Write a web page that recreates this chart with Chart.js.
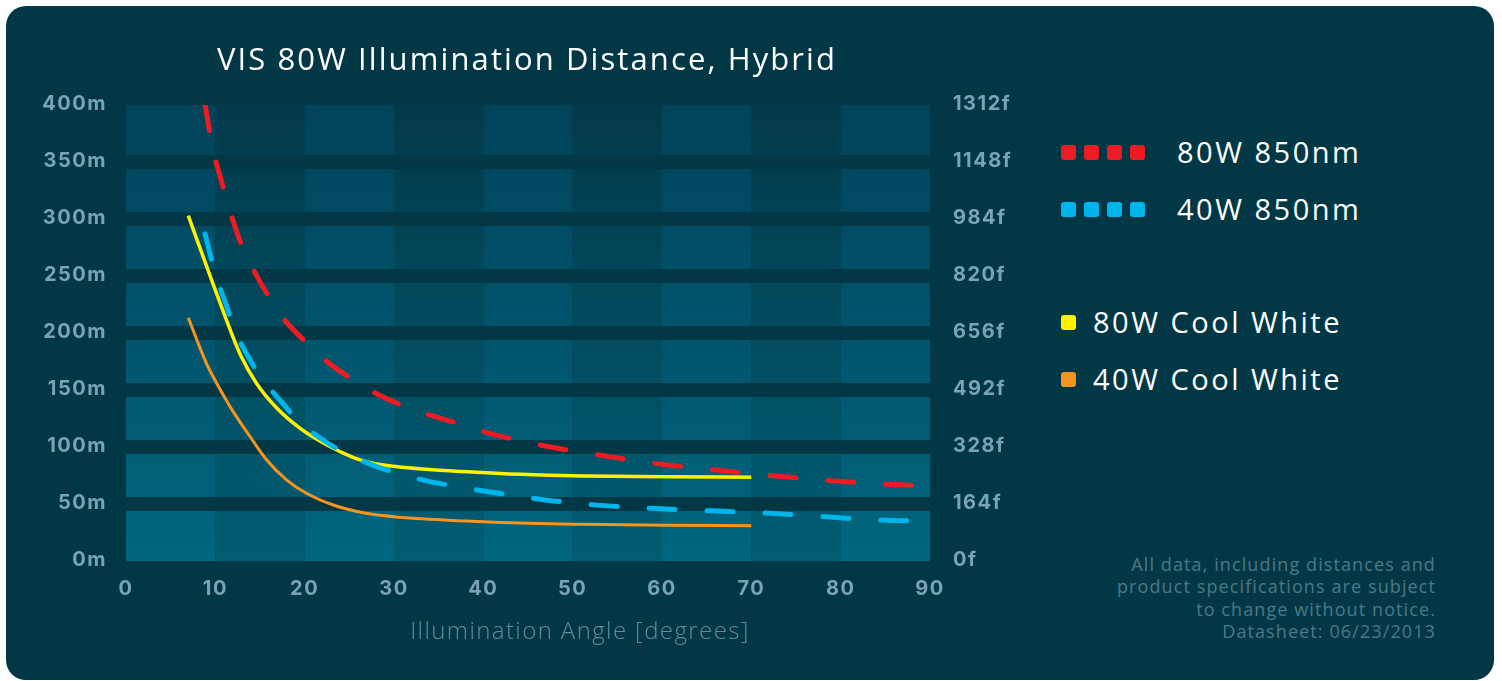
<!DOCTYPE html>
<html>
<head>
<meta charset="utf-8">
<script src="https://cdn.jsdelivr.net/npm/chart.js@4.4.1/dist/chart.umd.min.js"></script>
<style>
  html, body { margin:0; padding:0; background:#ffffff; width:1502px; height:681px; overflow:hidden; }
  #panel { position:absolute; left:6px; top:6px; width:1488px; height:674px; background:#023846; border-radius:20px; }
  #wrap { position:absolute; left:0; top:0; width:1054px; height:681px; }
  #title { position:absolute; left:127px; width:800px; top:38px; text-align:center; color:#ffffff;
           font-family:"Open Sans", sans-serif; font-weight:400; font-size:31px; line-height:40px;
           letter-spacing:2.1px; white-space:nowrap; }
  #xtitle { position:absolute; left:380px; width:400px; top:616px; text-align:center; color:#5f8c9b;
            font-family:"Open Sans", sans-serif; font-weight:300; font-size:24px; line-height:28px;
            letter-spacing:1.4px; white-space:nowrap; }
  #legend { position:absolute; left:1061px; top:0; font-family:"Open Sans", sans-serif; color:#ffffff; }
  .lrow { position:absolute; left:0; height:30px; display:flex; align-items:center; white-space:nowrap; }
  .sw { width:15px; height:15px; border-radius:3px; margin-right:8px; flex:none; }
  .ltxt { font-size:29px; line-height:30px; letter-spacing:2.5px; }
  #note { position:absolute; right:66px; top:553px; text-align:right; color:#4d7886;
          font-family:"Open Sans", sans-serif; font-size:18px; line-height:22.3px; letter-spacing:1.1px; white-space:nowrap; }
</style>
</head>
<body>
<div id="panel"></div>
<div id="wrap"><canvas id="c" width="1054" height="681"></canvas></div>
<div id="title"></div>
<div id="xtitle"></div>
<div id="legend"></div>
<div id="note"></div>
<script>
// ---------- data ----------
const chartTitle = 'VIS 80W Illumination Distance, Hybrid';
const xAxisTitle = 'Illumination Angle [degrees]';
const xTickLabels = ['0','10','20','30','40','50','60','70','80','90'];
const yTickLabelsM = ['0m','50m','100m','150m','200m','250m','300m','350m','400m'];
const yTickLabelsF = ['0f','164f','328f','492f','656f','820f','984f','1148f','1312f'];
const seriesNames = ['80W 850nm','40W 850nm','80W Cool White','40W Cool White'];
const seriesColors = ['#ed1c24','#00b4ec','#fff200','#f7941d'];
const seriesDashed = [true, true, false, false];
const noteLines = ['All data, including distances and','product specifications are subject','to change without notice.','Datasheet: 06/23/2013'];

const angles80nm = [8.85, 9.2, 9.8, 10.8, 11.6, 12.8, 14.1, 15.9, 17.6, 20.2, 22.5, 25.4, 28.1, 31.4, 34.4, 38.1, 40.9, 44.5, 47.5, 51.2, 54.2, 57.9, 60.9, 64.6, 67.6, 71.3, 74.3, 78.1, 81.0, 84.8, 87.8, 90];
const dist80nm   = [400, 384, 359, 330, 308, 280, 258, 233, 213, 191.5, 175, 159, 146.5, 135, 127, 118.5, 111.5, 105, 100, 95, 91.5, 87, 84, 81, 78.5, 75.5, 73.5, 71, 69.3, 67.5, 66.4, 65];

const angles40nm = [8.85, 10.0, 11.2, 12.2, 13.7, 15.2, 17.4, 19.4, 22.2, 24.7, 27.9, 30.7, 34.0, 37.0, 40.4, 43.4, 46.7, 49.7, 53.1, 56.1, 59.4, 62.4, 65.7, 68.7, 72.1, 75.1, 78.8, 81.4, 85.1, 87.8, 90];
const dist40nm   = [287, 252, 225, 202, 179, 160, 139.7, 122, 105.5, 94, 83.3, 76.3, 69.6, 65.5, 61, 57.6, 53.8, 51.2, 48.8, 47.3, 46, 44.8, 44, 43, 41.8, 40.4, 38.5, 37, 35.8, 35.1, 34.5];

const anglesCW80 = [6.97, 9.7, 12.0, 12.8, 14.6, 16.9, 19.5, 22.5, 25.4, 27.0, 28.6, 34.4, 41.9, 47.5, 51.2, 60.5, 70];
const distCW80   = [303, 244, 196, 181, 156, 134, 116.4, 101.8, 91, 87, 84.5, 80, 76.8, 75.3, 74.6, 74, 73.4];

const anglesCW40 = [6.97, 9.0, 10.15, 12.0, 13.9, 15.75, 18.0, 20.2, 23.2, 26.9, 30.7, 38.1, 41.9, 47.5, 51.2, 60.5, 70];
const distCW40   = [213.4, 173.4, 156, 131, 109, 88.6, 71, 59.4, 49.1, 41.8, 38.3, 35, 33.8, 32.6, 32.2, 31.3, 31];

const seriesAngles = [angles80nm, angles40nm, anglesCW80, anglesCW40];
const seriesDist = [dist80nm, dist40nm, distCW80, distCW40];

// ---------- html texts ----------
document.getElementById('title').textContent = chartTitle;
document.getElementById('xtitle').textContent = xAxisTitle;
document.getElementById('note').innerHTML = noteLines.map(s => '<div>' + s + '</div>').join('');
const legendRowsY = [152, 209, 322, 379];
const legend = document.getElementById('legend');
seriesNames.forEach((name, i) => {
  const row = document.createElement('div');
  row.className = 'lrow';
  row.style.top = (legendRowsY[i] - 15) + 'px';
  const n = seriesDashed[i] ? 4 : 1;
  for (let k = 0; k < n; k++) {
    const s = document.createElement('div');
    s.className = 'sw';
    s.style.background = seriesColors[i];
    if (k === n - 1) s.style.marginRight = seriesDashed[i] ? '32px' : '17px';
    row.appendChild(s);
  }
  const t = document.createElement('span');
  t.className = 'ltxt';
  t.textContent = name;
  row.appendChild(t);
  legend.appendChild(row);
});

// ---------- background plugin ----------
const bgPlugin = {
  id: 'bands',
  beforeDraw(chart) {
    const { ctx, chartArea: a, scales } = chart;
    const xs = scales.x;
    ctx.save();
    for (let i = 0; i < xTickLabels.length - 1; i++) {
      const x0 = xs.getPixelForValue(i * 10);
      const x1 = xs.getPixelForValue((i + 1) * 10);
      const g = ctx.createLinearGradient(0, a.top, 0, a.bottom);
      if (i % 2 === 0) { g.addColorStop(0, '#01435a'); g.addColorStop(1, '#01667f'); }
      else { g.addColorStop(0, '#023a4b'); g.addColorStop(1, '#015d73'); }
      ctx.fillStyle = g;
      ctx.fillRect(x0, a.top, x1 - x0, a.bottom - a.top);
    }
    ctx.restore();
    if ('letterSpacing' in ctx) ctx.letterSpacing = '1.5px';
  },
  beforeDatasetsDraw(chart) {
    if ('letterSpacing' in chart.ctx) chart.ctx.letterSpacing = '0px';
  }
};

const tickFont = { family: 'Inter, "Open Sans", sans-serif', weight: 'bold', size: 20 };
const tickColor = '#7aa3b6';

new Chart(document.getElementById('c'), {
  type: 'line',
  data: {
    datasets: seriesNames.map((name, i) => ({
      label: name,
      data: seriesAngles[i].map((a, k) => ({ x: a, y: seriesDist[i][k] })),
      borderColor: seriesColors[i],
      borderWidth: seriesDashed[i] ? 5 : (i === 2 ? 3.5 : 3),
      borderDash: seriesDashed[i] ? [26, 32] : [],
      borderCapStyle: seriesDashed[i] ? 'round' : 'butt',
      pointRadius: 0,
      cubicInterpolationMode: 'monotone',
      fill: false
    }))
  },
  options: {
    responsive: false,
    animation: false,
    layout: { padding: { top: 105 } },
    plugins: {
      legend: { display: false },
      tooltip: { enabled: false },
      title: { display: false }
    },
    scales: {
      x: {
        type: 'linear', min: 0, max: 90,
        ticks: { stepSize: 10, color: tickColor, font: tickFont, padding: 8,
                 callback: (v) => xTickLabels[Math.round(v / 10)] },
        grid: { display: false },
        border: { display: false },
        afterFit: (s) => { s.height = 120; }
      },
      y: {
        position: 'left', min: 0, max: 400,
        ticks: { stepSize: 50, color: tickColor, font: tickFont, padding: 19, labelOffset: -1,
                 callback: (v) => yTickLabelsM[Math.round(v / 50)] },
        grid: {
          drawTicks: false,
          lineWidth: 14,
          color: (c) => (c.tick && (c.tick.value === 0 || c.tick.value === 400)) ? 'rgba(0,0,0,0)' : '#023846'
        },
        border: { display: false },
        afterFit: (s) => { s.width = 126; }
      },
      y2: {
        position: 'right', min: 0, max: 400,
        ticks: { stepSize: 50, color: tickColor, font: tickFont, padding: 23, labelOffset: -1,
                 callback: (v) => yTickLabelsF[Math.round(v / 50)] },
        grid: { display: false, drawTicks: false },
        border: { display: false },
        afterFit: (s) => { s.width = 124; }
      }
    }
  },
  plugins: [bgPlugin]
});
</script>
</body>
</html>
